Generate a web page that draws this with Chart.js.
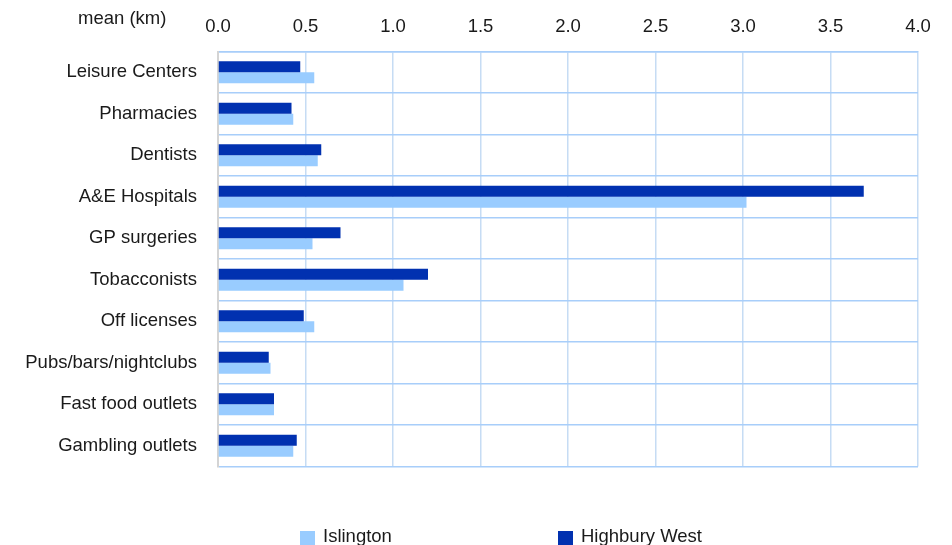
<!DOCTYPE html>
<html>
<head>
<meta charset="utf-8">
<script src="https://cdn.jsdelivr.net/npm/chart.js@4"></script>
<style>
  html, body { margin: 0; padding: 0; background: #fff; }
  #wrap { width: 952px; height: 545px; position: relative; }
</style>
</head>
<body>
<div id="wrap"><canvas id="distChart"></canvas></div>
<script>
// facilities and mean distance (km)
const categories = ['Leisure Centers', 'Pharmacies', 'Dentists', 'A&E Hospitals', 'GP surgeries',
    'Tobacconists', 'Off licenses', 'Pubs/bars/nightclubs', 'Fast food outlets', 'Gambling outlets'];
const highburyWest = [0.47, 0.42, 0.59, 3.69, 0.70, 1.20, 0.49, 0.29, 0.32, 0.45];
const islington = [0.55, 0.43, 0.57, 3.02, 0.54, 1.06, 0.55, 0.30, 0.32, 0.43];
const xTicks = [0, 0.5, 1.0, 1.5, 2.0, 2.5, 3.0, 3.5, 4.0];
const axisTitle = 'mean (km)';

const FONT = "'Liberation Sans', Arial, sans-serif";
const TEXT = '#1a1a1a';

// title top-left and a wide-spaced legend at the bottom
const extras = {
    id: 'extras',
    afterDraw(chart) {
        const ctx = chart.ctx;
        ctx.save();
        ctx.fillStyle = TEXT;
        ctx.font = '18.5px ' + FONT;
        ctx.textBaseline = 'alphabetic';
        ctx.textAlign = 'left';
        ctx.fillText(axisTitle, 78, 24);

        const items = chart.data.datasets.slice().reverse();
        const starts = [300, 558];
        items.forEach((ds, i) => {
            ctx.fillStyle = ds.backgroundColor;
            ctx.fillRect(starts[i], 531, 15, 15);
            ctx.fillStyle = TEXT;
            ctx.fillText(ds.label, starts[i] + 23, 541.5);
        });
        ctx.restore();
    }
};

const ctx = document.getElementById('distChart').getContext('2d');
new Chart(ctx, {
    type: 'bar',
    data: {
        labels: categories,
        datasets: [{
            label: 'Highbury West',
            data: highburyWest,
            backgroundColor: '#0131b0'
        }, {
            label: 'Islington',
            data: islington,
            backgroundColor: '#99ccff'
        }]
    },
    options: {
        indexAxis: 'y',
        responsive: true,
        maintainAspectRatio: false,
        animation: false,
        layout: { padding: { left: 0, right: 34, top: 0, bottom: 78.5 } },
        datasets: {
            bar: { categoryPercentage: 0.53, barPercentage: 1.0 }
        },
        plugins: {
            legend: { display: false },
            tooltip: { enabled: false }
        },
        scales: {
            x: {
                position: 'top',
                min: 0,
                max: 4,
                afterBuildTicks: (scale) => { scale.ticks = xTicks.map(v => ({ value: v })); },
                afterFit: (scale) => { scale.height = 51.5; },
                ticks: {
                    padding: 13,
                    color: TEXT,
                    font: { family: FONT, size: 18.5 },
                    callback: (v) => Number(v).toFixed(1)
                },
                grid: { color: '#c6dcf4', lineWidth: 1.5, drawTicks: false },
                border: { color: '#a8cefa', width: 1.5 }
            },
            y: {
                afterFit: (scale) => { scale.width = 218; },
                ticks: {
                    padding: 21,
                    color: TEXT,
                    font: { family: FONT, size: 18.5 }
                },
                grid: { color: '#a8cefa', lineWidth: 1.5, drawTicks: false, offset: true },
                border: { color: '#d4d4d4', width: 2 }
            }
        }
    },
    plugins: [extras]
});
</script>
</body>
</html>
